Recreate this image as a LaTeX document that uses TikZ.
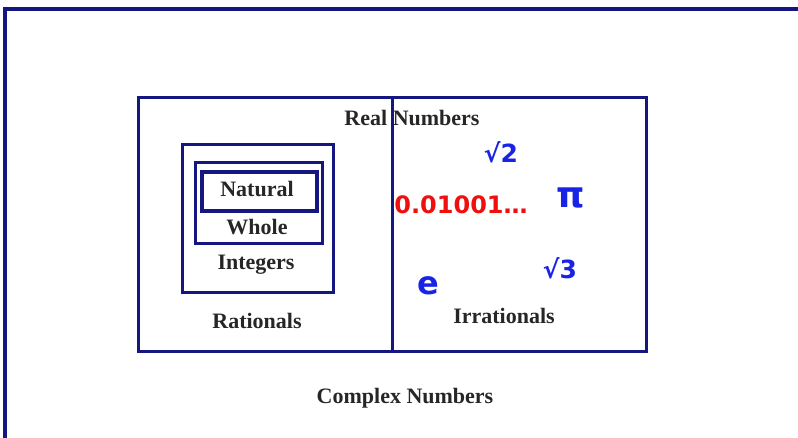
\documentclass[tikz,border=0pt]{standalone}
\usepackage{fontspec}
\setmainfont{Liberation Serif}
\newfontfamily\handfont{DejaVu Sans}

\definecolor{setframe}{RGB}{22,22,128}
\definecolor{inkblue}{RGB}{25,35,230}
\definecolor{inkred}{RGB}{240,15,15}

\tikzset{
  setbox/.style={draw=setframe,line width=3pt,inner sep=0pt},
  setname/.style={font=\bfseries\fontsize{22}{26}\selectfont,text=black!85},
  handnum/.style={font=\handfont\bfseries\fontsize{25}{28}\selectfont,text=inkblue}
}

\begin{document}
\begin{tikzpicture}[x=1pt,y=-1pt]
  \useasboundingbox (0,0) rectangle (798,437);
  % complex plane frame, running off the page
  \draw[setframe,line width=3.6pt](5,445)--(5,9)--(805,9);
  % nested boxes
  \node[setbox,minimum width=508pt,minimum height=254pt] (real) at (392,224) {};
  \draw[setframe,line width=3pt](real.north)--(real.south);
  \node[setbox,minimum width=151pt,minimum height=148pt] (integers) at (257.5,218) {};
  \node[setbox,minimum width=127pt,minimum height=81pt] (whole) at (258.5,202.5) {};
  \node[setbox,line width=3.6pt,minimum width=115pt,minimum height=39pt] (natural) at (259.5,191.5) {};
  % set names
  \node[setname] (realname) at (412,118) {Real Numbers};
  \node[setname] (naturalname) at (257,189) {Natural};
  \node[setname] (wholename) at (257,227) {Whole};
  \node[setname] (integersname) at (256,265) {Integers};
  \node[setname] (rationalsname) at (257,321) {Rationals};
  \node[setname] (irrationalsname) at (504,316) {Irrationals};
  \node[setname] (complexname) at (405,398) {Complex Numbers};
  % handwritten examples
  \node[handnum] (sqrttwo) at (501,152) {√2};
  \node[handnum,text=inkred,font=\handfont\bfseries\fontsize{24}{27}\selectfont] (decimal) at (461,205) {0.01001…};
  \node[handnum,font=\handfont\bfseries\fontsize{36}{38}\selectfont] (pi) at (571,198) {π};
  \node[handnum] (sqrtthree) at (560,268) {√3};
  \node[handnum,font=\handfont\bfseries\fontsize{32}{34}\selectfont] (euler) at (428,286) {e};
\end{tikzpicture}
\end{document}
